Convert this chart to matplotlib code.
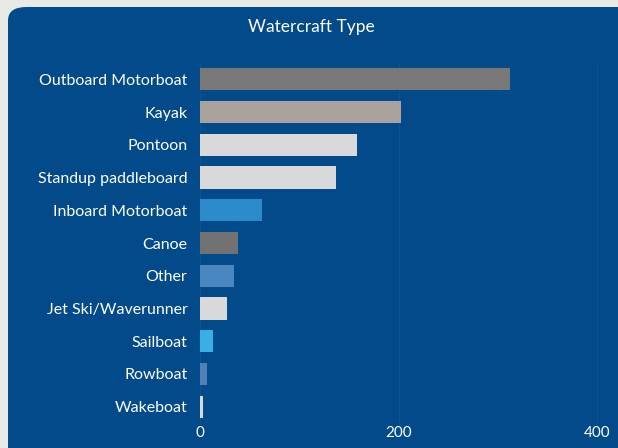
import matplotlib
matplotlib.use("Agg")
import matplotlib.pyplot as plt
from matplotlib.patches import FancyBboxPatch

plt.rcParams['font.family'] = ['Lato', 'DejaVu Sans']

# --- data ---
categories = ['Outboard Motorboat', 'Kayak', 'Pontoon', 'Standup paddleboard',
              'Inboard Motorboat', 'Canoe', 'Other', 'Jet Ski/Waverunner',
              'Sailboat', 'Rowboat', 'Wakeboat']
counts = [312, 203, 158, 137, 62, 38, 34, 27, 13, 7, 3]
bar_colors = ['#787878', '#aaa39d', '#d9d9db', '#d9d9db', '#2b8bcb', '#727272',
              '#4a86bf', '#d9d9db', '#3aaee6', '#4f80b6', '#d9d9db']
xticks = [0, 200, 400]

panel = '#024a8a'

fig = plt.figure(figsize=(6.18, 4.48), dpi=100, facecolor='#e8ebe5')

# rounded blue panel behind everything
W, H = 618, 448
fig.patches.append(FancyBboxPatch((8 / W, -20 / H), 640 / W, (448 - 7 + 20) / H,
                                  boxstyle='round,pad=0,rounding_size=0.03',
                                  transform=fig.transFigure, facecolor=panel,
                                  edgecolor='none', zorder=-5))

ax = fig.add_axes([200 / W, 1 - 423 / H, (600 - 200) / W, (423 - 63) / H])
ax.set_facecolor('none')

y = list(range(len(categories)))
ax.barh(y, counts, height=0.68, color=bar_colors, zorder=3)
ax.set_ylim(len(categories) - 0.5, -0.5)
ax.set_xlim(0, 403)
ax.set_yticks(y)
ax.set_yticklabels(categories, color='white', fontsize=11.5)
ax.set_xticks(xticks)
ax.set_xticklabels([str(t) for t in xticks], color='white', fontsize=11)
ax.tick_params(length=0, pad=9)
ax.tick_params(axis='x', pad=2)
ax.grid(axis='x', color='#0e5290', linewidth=0.8, zorder=0)
for s in ax.spines.values():
    s.set_visible(False)

fig.text(311 / W, 1 - 27 / H, 'Watercraft Type', color='white', fontsize=12.5,
         ha='center', va='center')

fig.savefig('out.png', dpi=100, facecolor=fig.get_facecolor())
